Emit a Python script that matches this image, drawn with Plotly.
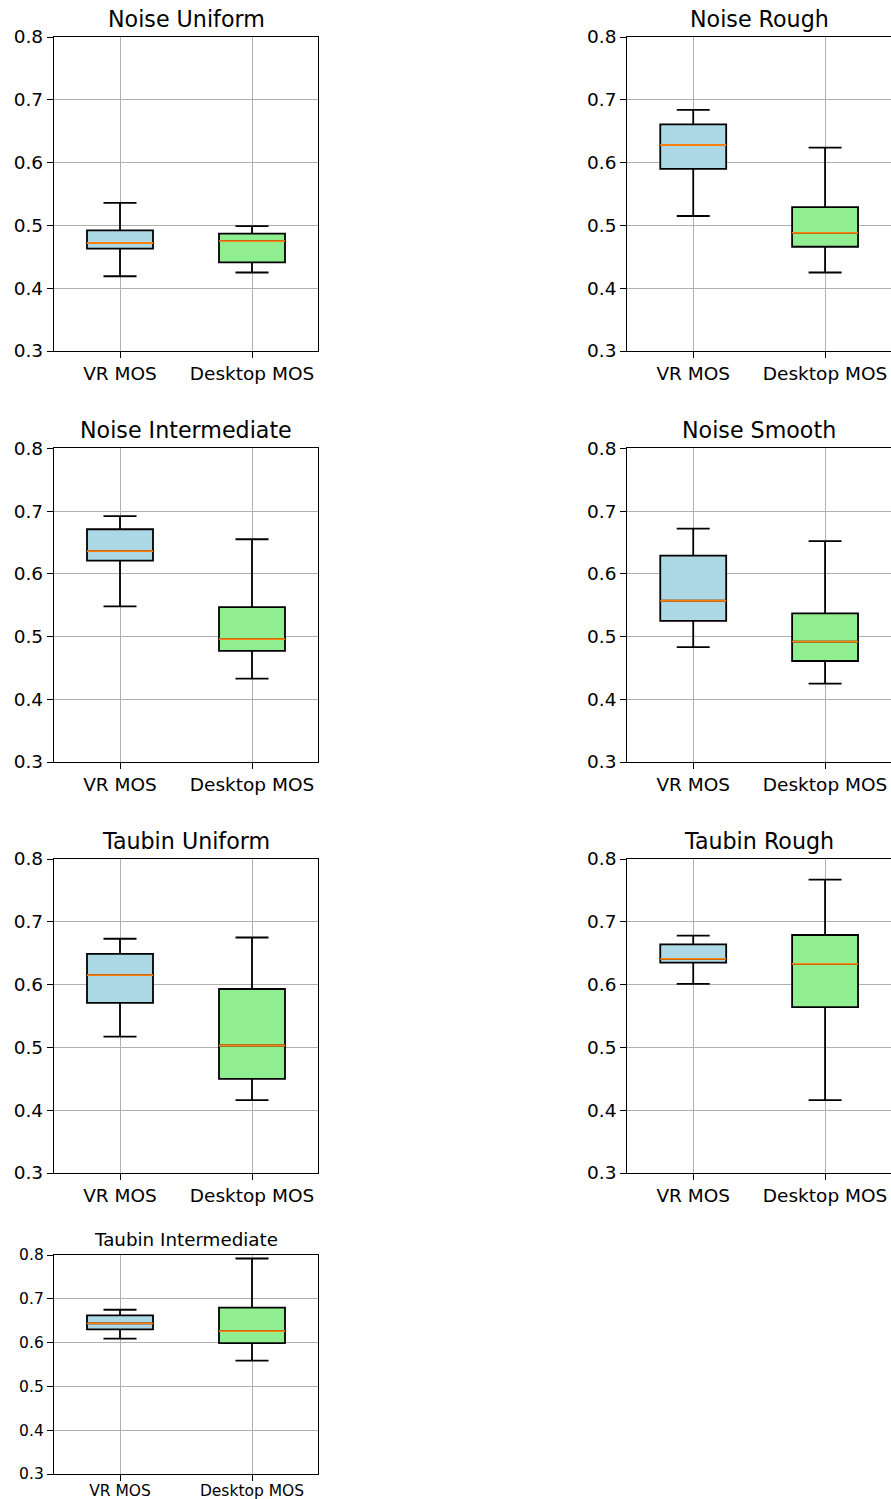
import plotly.graph_objects as go

# Panel titles and box statistics (VR vs Desktop MOS)
panel_titles = ["Noise Uniform", "Noise Rough", "Noise Intermediate", "Noise Smooth",
                "Taubin Uniform", "Taubin Rough", "Taubin Intermediate"]
categories = ["VR MOS", "Desktop MOS"]

vr_lower = [0.419, 0.515, 0.548, 0.483, 0.517, 0.601, 0.609]
vr_q1 = [0.463, 0.590, 0.621, 0.525, 0.571, 0.635, 0.630]
vr_median = [0.472, 0.628, 0.636, 0.557, 0.615, 0.641, 0.644]
vr_q3 = [0.492, 0.661, 0.671, 0.629, 0.649, 0.664, 0.662]
vr_upper = [0.536, 0.684, 0.692, 0.672, 0.673, 0.678, 0.675]

desk_lower = [0.425, 0.425, 0.433, 0.425, 0.416, 0.416, 0.559]
desk_q1 = [0.441, 0.466, 0.477, 0.461, 0.450, 0.564, 0.599]
desk_median = [0.475, 0.488, 0.496, 0.492, 0.503, 0.633, 0.626]
desk_q3 = [0.487, 0.529, 0.547, 0.537, 0.593, 0.679, 0.680]
desk_upper = [0.499, 0.624, 0.655, 0.652, 0.675, 0.767, 0.792]

y_ticks = [0.3, 0.4, 0.5, 0.6, 0.7, 0.8]

W, H = 891, 1499
FONT = "DejaVu Sans"

# Axes rectangles in pixels: (left, right, top, bottom)
col_x = [(54, 318), (627.3, 891)]
row_y = [(37, 351), (448.3, 762), (859, 1173), (1255, 1474)]
cells = [(0, 0), (0, 1), (1, 0), (1, 1), (2, 0), (2, 1), (3, 0)]

BOX_W = 0.5
colors = ["#ADD8E6", "#90EE90"]

fig = go.Figure()
annotations = []
layout = {}

for i, title in enumerate(panel_titles):
    r, c = cells[i]
    x0, x1 = col_x[c]
    y0, y1 = row_y[r]
    small = r == 3
    tick_size = 15.5 if small else 18.5
    title_size = 18.3 if small else 22.2
    n = i + 1
    xa = "x" if n == 1 else f"x{n}"
    ya = "y" if n == 1 else f"y{n}"
    xkey = "xaxis" if n == 1 else f"xaxis{n}"
    ykey = "yaxis" if n == 1 else f"yaxis{n}"

    stats = [
        (vr_lower[i], vr_q1[i], vr_median[i], vr_q3[i], vr_upper[i]),
        (desk_lower[i], desk_q1[i], desk_median[i], desk_q3[i], desk_upper[i]),
    ]
    for k, (lo, q1, med, q3, hi) in enumerate(stats):
        pos = k + 1
        fig.add_trace(go.Box(
            x=[pos], q1=[q1], median=[med], q3=[q3],
            lowerfence=[lo], upperfence=[hi],
            width=BOX_W, whiskerwidth=0.5,
            fillcolor=colors[k], line=dict(color="black", width=1.8),
            boxpoints=False, showlegend=False, hoverinfo="skip",
            xaxis=xa, yaxis=ya,
        ))
        fig.add_trace(go.Scatter(
            x=[pos - BOX_W / 2, pos + BOX_W / 2], y=[med, med],
            mode="lines", line=dict(color="#ff7f0e", width=1.8),
            showlegend=False, hoverinfo="skip", xaxis=xa, yaxis=ya,
        ))

    common = dict(
        showline=True, mirror=True, linecolor="black", linewidth=1.3,
        ticks="outside", ticklen=6, tickwidth=1.3, tickcolor="black",
        showgrid=True, gridcolor="#b0b0b0", gridwidth=1.2, zeroline=False,
        tickfont=dict(family=FONT, size=tick_size, color="black"),
        fixedrange=True, automargin=False,
    )
    layout[xkey] = dict(
        domain=[x0 / W, min(x1 / W, 1.0)], anchor=ya,
        range=[0.5, 2.5], tickmode="array", tickvals=[1, 2], ticktext=categories,
        ticklabelstandoff=-4 if small else 0,
        **common,
    )
    layout[ykey] = dict(
        domain=[1 - y1 / H, 1 - y0 / H], anchor=xa,
        range=[0.3, 0.8], tickmode="array", tickvals=y_ticks,
        ticktext=[f"{v:.1f}" for v in y_ticks],
        **common,
    )
    annotations.append(dict(
        text=title, xref="paper", yref="paper",
        x=((x0 + x1) / 2) / W, y=1 - y0 / H,
        xanchor="center", yanchor="bottom", yshift=3, showarrow=False,
        font=dict(family=FONT, size=title_size, color="black"),
    ))

fig.update_layout(
    width=W, height=H, margin=dict(l=0, r=0, t=0, b=0, autoexpand=False),
    paper_bgcolor="white", plot_bgcolor="white",
    boxmode="overlay", annotations=annotations,
    font=dict(family=FONT, color="black"),
    **layout,
)

fig.write_html("out.html")
